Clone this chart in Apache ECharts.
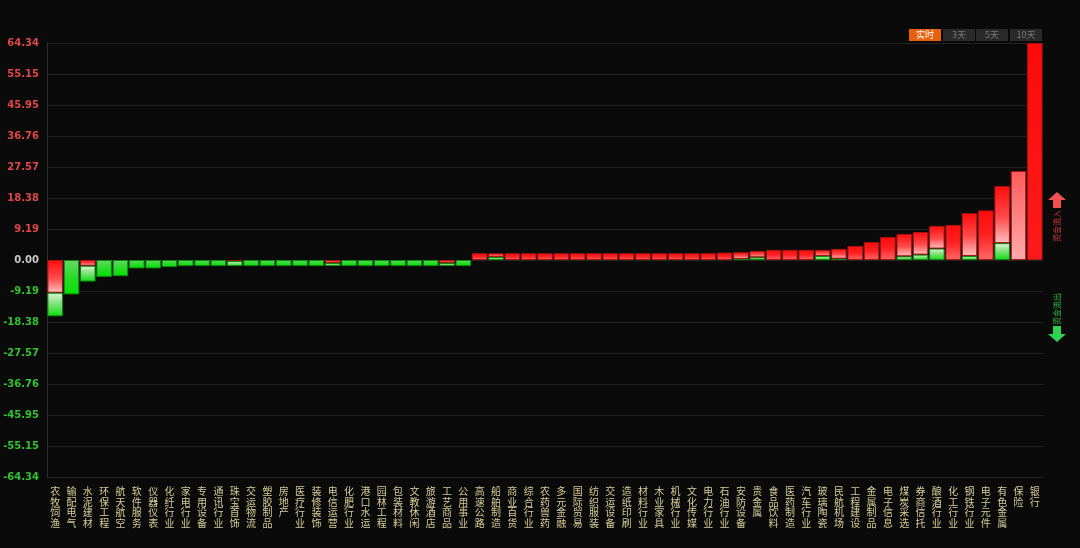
<!DOCTYPE html>
<html>
<head>
<meta charset="utf-8">
<script src="https://cdn.jsdelivr.net/npm/echarts@6/dist/echarts.min.js"></script>
<style>
html, body { margin: 0; padding: 0; background: #0a0a0a; }
#chart { width: 1080px; height: 548px; }
</style>
</head>
<body>
<div id="chart"></div>
<script>
var categories = ['农牧饲渔','输配电气','水泥建材','环保工程','航天航空','软件服务','仪器仪表','化纤行业','家电行业','专用设备',
    '通讯行业','珠宝首饰','交运物流','塑胶制品','房地产','医疗行业','装修装饰','电信运营','化肥行业','港口水运',
    '园林工程','包装材料','文教休闲','旅游酒店','工艺商品','公用事业','高速公路','船舶制造','商业百货','综合行业',
    '农药兽药','多元金融','国际贸易','纺织服装','交运设备','造纸印刷','材料行业','木业家具','机械行业','文化传媒',
    '电力行业','石油行业','安防设备','贵金属','食品饮料','医药制造','汽车行业','玻璃陶瓷','民航机场','工程建设',
    '金属制品','电子信息','煤炭采选','券商信托','酿酒行业','化工行业','钢铁行业','电子元件','有色金属','保险','银行'];

// red (inflow-coloured) part of each bar, signed
var redPart = [-9.7, null, -1.7, null, null, null, null, null, null, null,
    null, -0.3, null, null, null, null, null, -0.9, null, null,
    null, null, null, null, -0.9, null, 2.0, 1.1, 2.0, 2.0,
    2.0, 2.0, 2.0, 2.0, 2.0, 2.0, 2.0, 2.0, 2.0, 2.0,
    2.0, 2.2, 2.0, 1.9, 3.0, 3.0, 3.0, 1.8, 2.9, 4.15,
    5.3, 6.8, 6.6, 6.7, 6.7, 10.4, 12.7, 14.7, 16.9, 26.4, 64.34];

// green (outflow-coloured) part of each bar, signed
var greenPart = [-7.0, -10.2, -4.7, -5.0, -4.8, -2.5, -2.5, -2.1, -1.8, -1.8,
    -1.8, -1.5, -1.8, -1.8, -1.8, -1.8, -1.8, -0.9, -1.8, -1.8,
    -1.8, -1.8, -1.8, -1.8, -0.9, -1.8, null, 0.9, null, null,
    null, null, null, null, null, null, null, null, null, null,
    null, null, 0.3, 0.8, null, null, null, 1.2, 0.4, null,
    null, null, 1.1, 1.6, 3.4, null, 1.2, null, 5.0, null, null];

var yMax = 64.337;
var rangeButtons = ['实时', '3天', '5天', '10天'];

var greenUp = greenPart.map(function (v) { return v != null && v > 0 ? v : null; });
var greenDown = greenPart.map(function (v) { return v != null && v < 0 ? v : null; });

function grad(stops) {
    return new echarts.graphic.LinearGradient(0, 0, 0, 1, stops.map(function (s) {
        return { offset: s[0], color: s[1] };
    }));
}

function redColor(p) {
    var mixed = greenPart[p.dataIndex] != null;
    if (categories[p.dataIndex] === '保险') {
        return grad([[0, '#ff5a5a'], [1, '#ffaaaa']]);
    }
    if (categories[p.dataIndex] === '银行') {
        return grad([[0, '#ff0a0a'], [1, '#ff1a1a']]);
    }
    return mixed ? grad([[0, '#ff0c0c'], [0.55, '#ff4a4a'], [1, '#ffc0c0']])
                 : grad([[0, '#ff0c0c'], [0.5, '#ff2020'], [1, '#ff6a6a']]);
}

function greenColor(p) {
    var mixed = redPart[p.dataIndex] != null;
    return mixed ? grad([[0, '#e0f6d8'], [0.4, '#8ee488'], [1, '#10dc10']])
                 : grad([[0, '#6ad86a'], [0.5, '#28dc28'], [1, '#06e006']]);
}

var myChart = echarts.init(document.getElementById('chart'));

var buttons = rangeButtons.map(function (t, i) {
    var xs = [909, 943, 976, 1010];
    var active = i === 0;
    return {
        type: 'group',
        left: xs[i], top: 29,
        children: [
            { type: 'rect', shape: { width: 32, height: 12 }, style: { fill: active ? '#e8600c' : '#2a2a2a' } },
            { type: 'text', x: 16, y: 6, style: { text: t, fill: active ? '#ffffff' : '#7a7a7a',
                font: '9px "Noto Sans CJK SC"', align: 'center', verticalAlign: 'middle' } }
        ]
    };
});

option = {
    backgroundColor: '#0a0a0a',
    animation: false,
    grid: { left: 47, right: 37, top: 43, bottom: 71 },
    xAxis: {
        type: 'category',
        data: categories,
        axisLine: { show: false },
        axisTick: { show: false },
        axisLabel: {
            interval: 0,
            margin: 9,
            color: '#d6cd96',
            fontSize: 10,
            lineHeight: 10.5,
            fontFamily: 'Noto Sans CJK SC',
            formatter: function (v) { return v.split('').join('\n'); }
        }
    },
    yAxis: {
        type: 'value',
        min: -yMax,
        max: yMax,
        interval: yMax / 7,
        axisLine: { show: true, lineStyle: { color: '#2e2e2e' } },
        axisTick: { show: false },
        splitLine: { lineStyle: { color: '#232323' } },
        axisLabel: {
            margin: 8,
            fontSize: 10,
            fontWeight: 'bold',
            fontFamily: 'DejaVu Sans',
            formatter: function (v) { return v.toFixed(2); },
            color: function (v) {
                v = parseFloat(v);
                if (Math.abs(v) < 0.001) return '#c8c8c8';
                return v > 0 ? '#e04848' : '#32c232';
            }
        }
    },
    series: [
        {
            name: '流入绿', type: 'bar', stack: 'flow', data: greenUp,
            barCategoryGap: '5%',
            itemStyle: { color: greenColor, borderColor: '#0c8a0c', borderWidth: 1 }
        },
        {
            name: '红', type: 'bar', stack: 'flow', data: redPart,
            itemStyle: { color: redColor, borderColor: '#a81414', borderWidth: 1 }
        },
        {
            name: '流出绿', type: 'bar', stack: 'flow', data: greenDown,
            itemStyle: { color: greenColor, borderColor: '#0c8a0c', borderWidth: 1 }
        }
    ],
    graphic: buttons.concat([
        { type: 'polygon', shape: { points: [[1057, 192], [1066, 200], [1061, 200], [1061, 208], [1053, 208], [1053, 200], [1048, 200]] },
          style: { fill: '#f05050' } },
        { type: 'text', x: 1057, y: 226, rotation: Math.PI / 2,
          style: { text: '资金流入', fill: '#d83c3c', font: '8px "Noto Sans CJK SC"', align: 'center', verticalAlign: 'middle' } },
        { type: 'text', x: 1057, y: 309, rotation: Math.PI / 2,
          style: { text: '资金流出', fill: '#2ec040', font: '8px "Noto Sans CJK SC"', align: 'center', verticalAlign: 'middle' } },
        { type: 'polygon', shape: { points: [[1053, 326], [1061, 326], [1061, 334], [1066, 334], [1057, 342], [1048, 334], [1053, 334]] },
          style: { fill: '#30d050' } }
    ])
};
myChart.setOption(option);
</script>
</body>
</html>
